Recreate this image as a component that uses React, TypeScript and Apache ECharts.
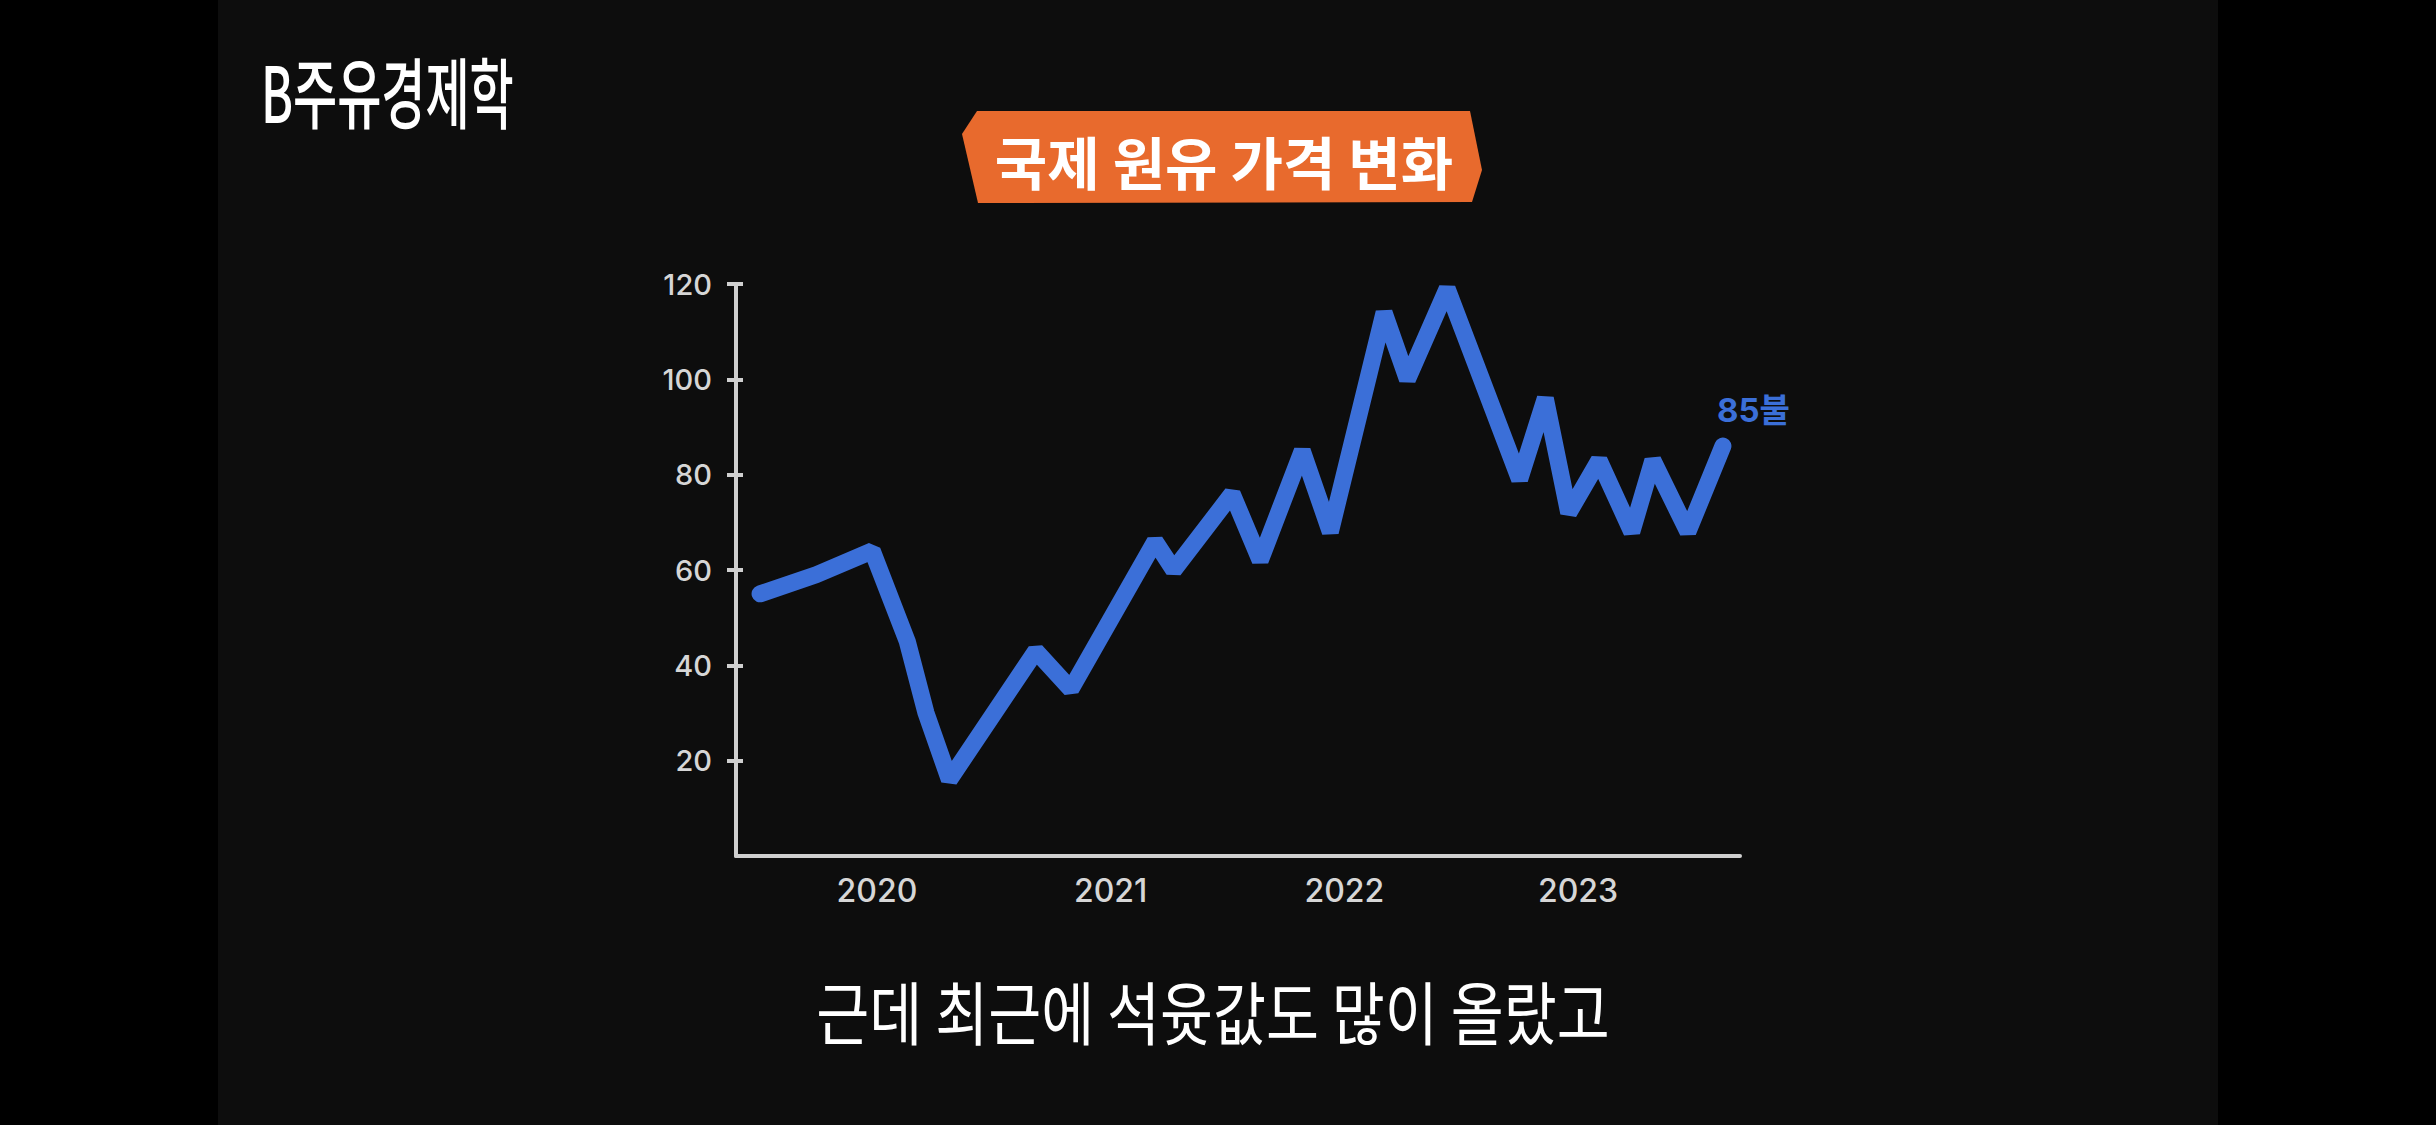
import React, { useEffect, useRef } from "react";
import * as echarts from "echarts";

const years = [2020, 2021, 2022, 2023];
const yTicks = [20, 40, 60, 80, 100, 120];
const times = [
  2019.5, 2019.74, 2019.98, 2020.13, 2020.21, 2020.31, 2020.68, 2020.83, 2021.19,
  2021.27, 2021.52, 2021.64, 2021.82, 2021.94, 2022.17, 2022.27, 2022.44, 2022.75,
  2022.86, 2022.96, 2023.09, 2023.23, 2023.32, 2023.47, 2023.62,
];
const prices = [
  55, 59, 64, 45, 30, 16, 43, 35, 66, 60, 76, 62, 85, 68, 114, 100, 119, 79, 96, 72,
  83, 68, 83, 68, 86,
];
const title = "국제 원유 가격 변화";
const logo = "B주유경제학";
const subtitle = "근데 최근에 석윳값도 많이 올랐고";
const endLabelText = "85불";

const BLUE = "#3b6fd8";
const AXIS = "#cfcfcf";

export default function App() {
  const ref = useRef<HTMLDivElement>(null);
  useEffect(() => {
    document.body.style.margin = "0";
    document.body.style.background = "#000";
    const chart = echarts.init(ref.current!, null, { renderer: "svg" });
    const data = times.map((t, i) => [t, prices[i]]);
    const yBase = {
      type: "value",
      min: 0,
      max: 120,
      interval: 20,
      position: "left",
      offset: 0,
      splitLine: { show: false },
    };
    chart.setOption({
      animation: false,
      backgroundColor: "#000",
      graphic: [
        { type: "rect", shape: { x: 218, y: 0, width: 2000, height: 1125 }, style: { fill: "#0d0d0d" }, z: -10 },
        {
          type: "polygon",
          shape: { points: [[977, 111], [1470, 111], [1482, 170], [1472, 202], [978, 203], [962, 134]] },
          style: { fill: "#e86a2d" },
        },
        {
          type: "text",
          x: 1224,
          y: 160,
          style: {
            text: title,
            fill: "#ffffff",
            font: "bold 57px 'Noto Sans CJK KR'",
            textAlign: "center",
            textVerticalAlign: "middle",
          },
        },
        {
          type: "text",
          x: 261,
          y: 89,
          scaleY: 1.6,
          style: {
            text: logo,
            fill: "#ffffff",
            font: "500 48px 'Noto Sans CJK KR'",
            textAlign: "left",
            textVerticalAlign: "middle",
          },
        },
        {
          type: "text",
          x: 1213,
          y: 1009,
          scaleX: 1.2,
          scaleY: 1.45,
          style: {
            text: subtitle,
            fill: "#ffffff",
            font: "400 48px 'Noto Sans CJK KR'",
            textAlign: "center",
            textVerticalAlign: "middle",
          },
        },
      ],
      grid: { left: 736, right: 696, top: 284, bottom: 269, containLabel: false },
      xAxis: {
        type: "value",
        min: 2019.397,
        max: 2023.693,
        splitLine: { show: false },
        axisTick: { show: false },
        axisLine: { show: true, lineStyle: { color: AXIS, width: 4 } },
        axisLabel: {
          customValues: years,
          formatter: (v: number) => String(Math.round(v)),
          color: "#d6d6d6",
          fontFamily: "Inter",
          fontSize: 32,
          fontWeight: 500,
          margin: 18,
        },
      },
      yAxis: [
        {
          ...yBase,
          axisLine: { show: true, lineStyle: { color: AXIS, width: 4 } },
          axisTick: { show: true, length: 9, lineStyle: { color: AXIS, width: 4 }, customValues: yTicks },
          axisLabel: {
            customValues: yTicks,
            color: "#d6d6d6",
            fontFamily: "Inter",
            fontSize: 29,
            fontWeight: 500,
            margin: 24,
          },
        },
        {
          ...yBase,
          axisLine: { show: false },
          axisLabel: { show: false },
          axisTick: { show: true, inside: true, length: 7, lineStyle: { color: AXIS, width: 4 }, customValues: yTicks },
        },
      ],
      series: [
        {
          type: "line",
          data,
          symbol: "none",
          lineStyle: { color: BLUE, width: 17, cap: "round", join: "bevel" },
          endLabel: {
            show: true,
            formatter: endLabelText,
            color: BLUE,
            fontFamily: "Inter, 'Noto Sans CJK KR'",
            fontWeight: "bold",
            fontSize: 33,
            offset: [-14, -36],
          },
        },
      ],
    });
    return () => chart.dispose();
  }, []);
  return <div ref={ref} style={{ width: 2436, height: 1125 }} />;
}
